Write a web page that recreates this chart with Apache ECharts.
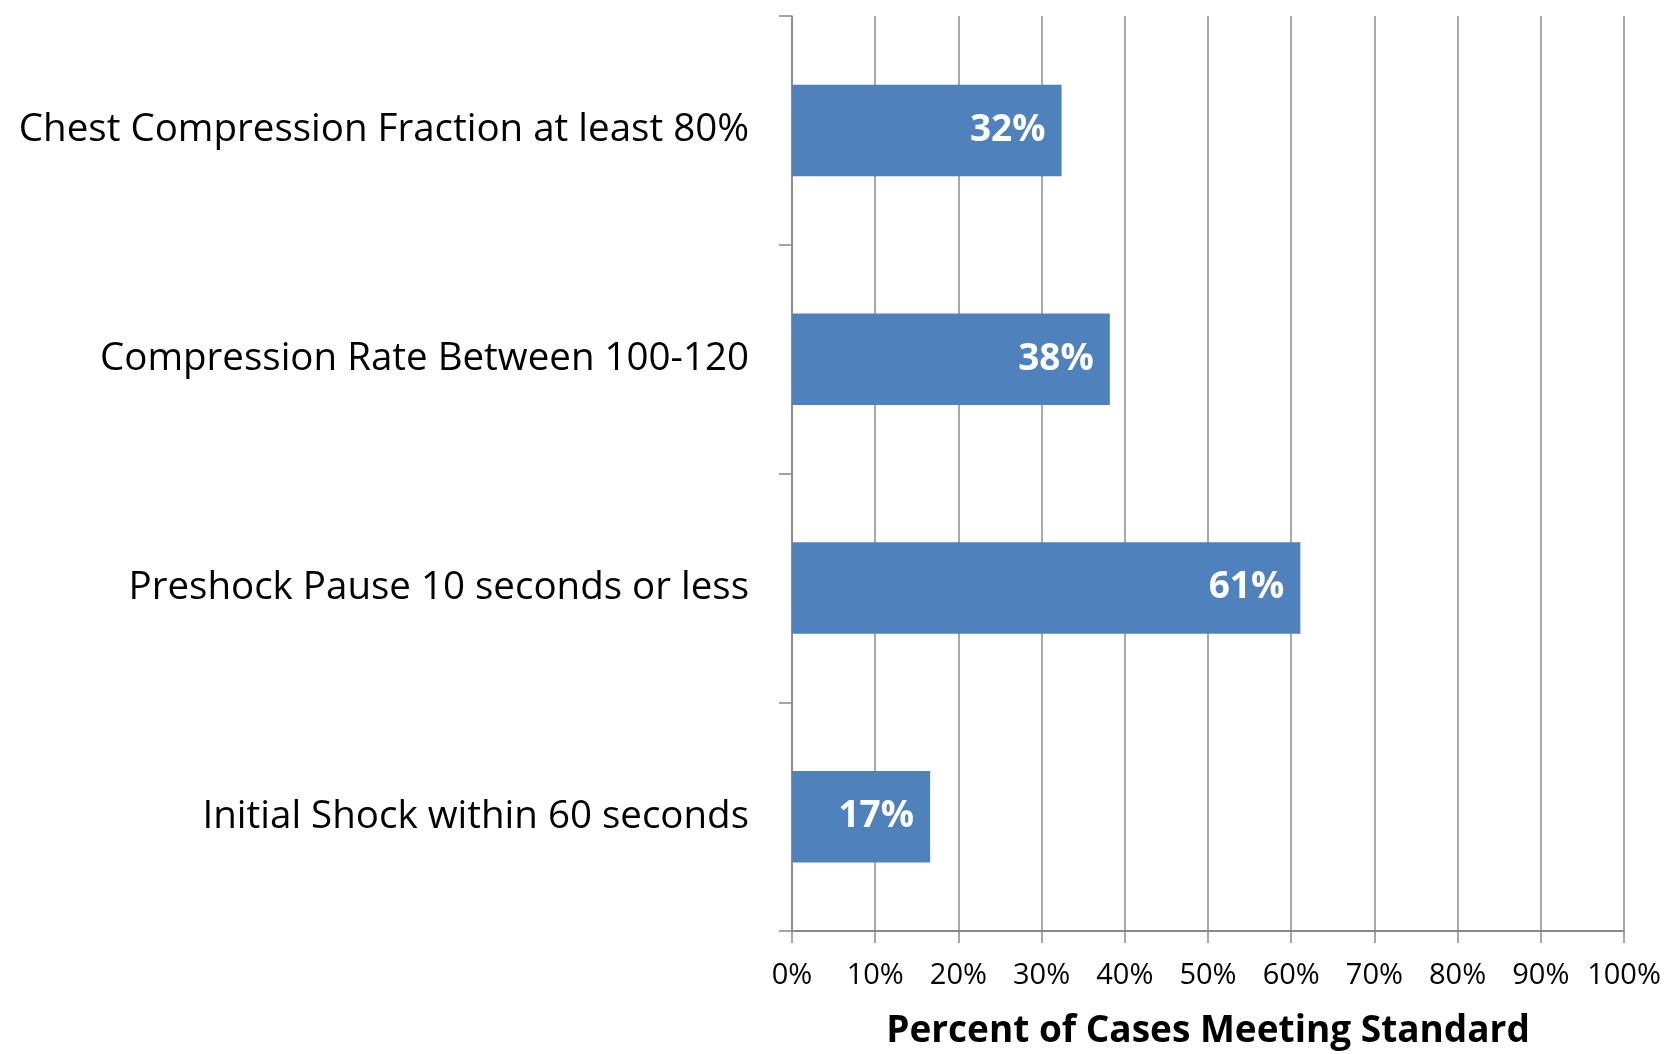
<!DOCTYPE html>
<html>
<head>
<meta charset="utf-8">
<script src="https://cdn.jsdelivr.net/npm/echarts@6/dist/echarts.min.js"></script>
<style>
  html, body { margin: 0; padding: 0; background: #fff; }
  #chart { width: 1666px; height: 1054px; }
</style>
</head>
<body>
<div id="chart"></div>
<script>
const categories = [
  'Chest Compression Fraction at least 80%',
  'Compression Rate Between 100-120',
  'Preshock Pause 10 seconds or less',
  'Initial Shock within 60 seconds'
]
const values = [32.4, 38.2, 61.1, 16.6]
const tickLabels = ['0%', '10%', '20%', '30%', '40%', '50%', '60%', '70%', '80%', '90%', '100%']
const barLabels = ['32%', '38%', '61%', '17%']

const font = '"Open Sans", "Noto Sans", sans-serif'
const chart = echarts.init(document.getElementById('chart'))
chart.setOption({
  animation: false,
  grid: { left: 792, right: 42, top: 16, bottom: 123, outerBoundsMode: 'none', containLabel: false },
  xAxis: {
    type: 'value',
    min: 0,
    max: 100,
    interval: 10,
    name: 'Percent of Cases Meeting Standard',
    nameLocation: 'middle',
    nameGap: 82,
    nameTextStyle: { fontFamily: font, fontSize: 37, fontWeight: 'bold', color: '#000' },
    axisLine: { show: true, lineStyle: { color: '#888', width: 2 } },
    axisTick: { show: true, length: 12, lineStyle: { color: '#888', width: 1.5 } },
    axisLabel: {
      margin: 30,
      fontFamily: font,
      fontSize: 29,
      color: '#000',
      formatter: (v) => tickLabels[Math.round(v / 10)]
    },
    splitLine: { show: true, lineStyle: { color: '#8c8c8c', width: 1.5 } }
  },
  yAxis: {
    type: 'category',
    inverse: true,
    data: categories,
    axisLine: { show: true, lineStyle: { color: '#888', width: 1.5 } },
    axisTick: { show: true, length: 13, lineStyle: { color: '#888', width: 1.5 } },
    axisLabel: { margin: 43, fontFamily: font, fontSize: 38.5, color: '#000' }
  },
  series: [{
    type: 'bar',
    data: values,
    barCategoryGap: '60%',
    itemStyle: { color: '#4f81bd' },
    label: {
      show: true,
      position: 'insideRight',
      distance: 16,
      fontFamily: font,
      fontSize: 37,
      fontWeight: 'bold',
      color: '#fff',
      formatter: (p) => barLabels[p.dataIndex]
    }
  }]
})
</script>
</body>
</html>
